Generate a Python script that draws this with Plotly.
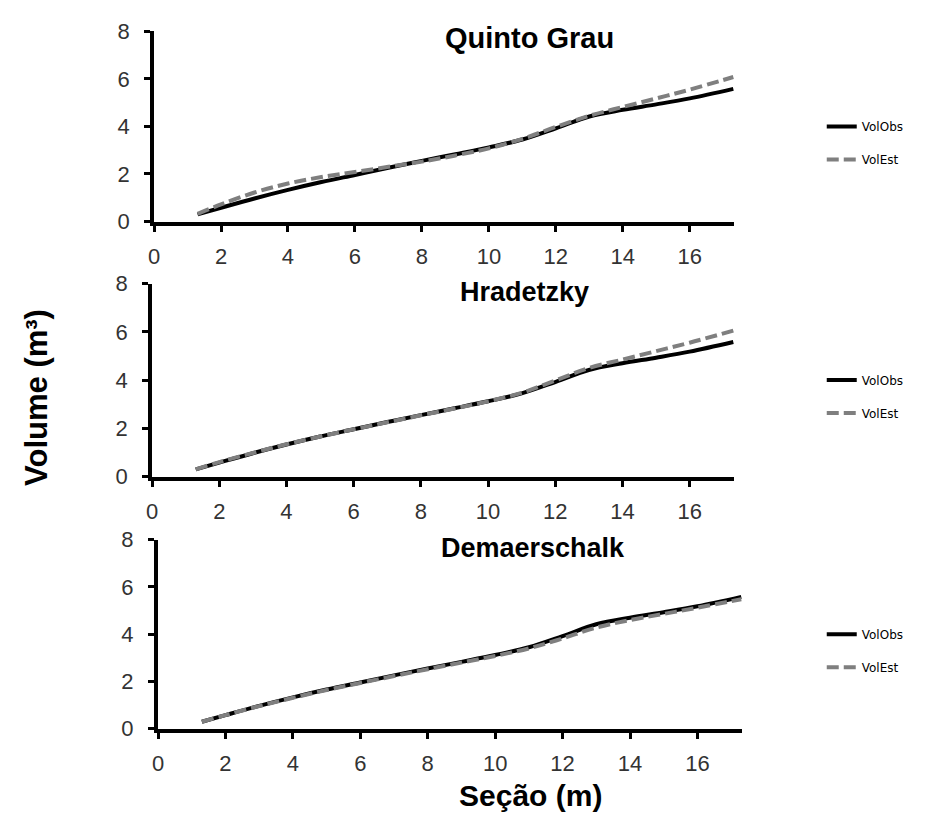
import plotly.graph_objects as go

# ---- data ----
secao = [1.3, 2, 3, 4, 5, 6, 7, 8, 9, 10, 11, 12, 13, 14, 15, 16, 17.3]
vol_obs = [0.30, 0.58, 0.97, 1.33, 1.66, 1.96, 2.26, 2.55, 2.83, 3.12, 3.45, 3.92, 4.42, 4.70, 4.93, 5.18, 5.58]
est_quinto = [0.32, 0.72, 1.22, 1.60, 1.87, 2.08, 2.30, 2.52, 2.78, 3.08, 3.48, 3.98, 4.45, 4.82, 5.18, 5.55, 6.08]
est_hradetzky = [0.30, 0.60, 0.98, 1.34, 1.66, 1.96, 2.25, 2.54, 2.82, 3.12, 3.47, 3.98, 4.50, 4.85, 5.20, 5.55, 6.05]
est_demaer = [0.30, 0.58, 0.96, 1.31, 1.64, 1.94, 2.23, 2.52, 2.80, 3.08, 3.40, 3.82, 4.28, 4.60, 4.86, 5.12, 5.48]

panel_titles = ["Quinto Grau", "Hradetzky", "Demaerschalk"]
panel_est = [est_quinto, est_hradetzky, est_demaer]
x_ticks = [0, 2, 4, 6, 8, 10, 12, 14, 16]
y_ticks = [0, 2, 4, 6, 8]

W, H = 938, 832
# pixel boxes of each plot area: (left, right, top, bottom)
boxes = [(149, 733, 20, 216), (147, 733, 280, 479), (153, 741, 544, 739)]
title_y = [27, 289, 553]
title_x = [527, 522, 530]
title_size = [29, 27, 27]

fig = go.Figure()
layout = dict(
    width=W, height=H,
    margin=dict(l=0, r=0, t=0, b=0),
    paper_bgcolor="white", plot_bgcolor="white",
    font=dict(family="Liberation Sans, Arial", color="#222"),
    annotations=[], showlegend=True,
)

for i in range(3):
    l, r, t, b = boxes[i]
    xa = "xaxis" if i == 0 else f"xaxis{i+1}"
    ya = "yaxis" if i == 0 else f"yaxis{i+1}"
    xr = "x" if i == 0 else f"x{i+1}"
    yr = "y" if i == 0 else f"y{i+1}"
    lg = "legend" if i == 0 else f"legend{i+1}"
    fig.add_trace(go.Scatter(
        x=secao, y=vol_obs, mode="lines", name="VolObs",
        line=dict(color="black", width=4, shape="spline"),
        xaxis=xr, yaxis=yr, legend=lg, legendgroup=f"obs{i}"))
    fig.add_trace(go.Scatter(
        x=secao, y=panel_est[i], mode="lines", name="VolEst",
        line=dict(color="#7f7f7f", width=4, shape="spline", dash="12px,5px"),
        xaxis=xr, yaxis=yr, legend=lg, legendgroup=f"est{i}"))
    common = dict(showline=True, linewidth=4, linecolor="black",
                  ticks="outside", ticklen=6, tickwidth=3, tickcolor="black",
                  showgrid=False, zeroline=False,
                  tickfont=dict(size=22, color="#333", family="Liberation Sans, Arial"))
    layout[xa] = dict(domain=[l / W, r / W], range=[0, 17.33], tickvals=x_ticks,
                      anchor=yr, ticklabelstandoff=6, **common)
    layout[ya] = dict(domain=[1 - b / H, 1 - t / H], range=[0, 8], tickvals=y_ticks,
                      anchor=xr, ticklabelstandoff=10, **common)
    cy = (t + b) / 2
    layout[lg] = dict(x=821 / W, xanchor="left", y=1 - (cy + 17) / H, yanchor="middle",
                      bgcolor="rgba(0,0,0,0)", tracegroupgap=14,
                      font=dict(size=12, color="black", family="DejaVu Sans"))
    layout["annotations"].append(dict(
        text=f"<b>{panel_titles[i]}</b>", x=title_x[i] / W, y=1 - title_y[i] / H,
        xref="paper", yref="paper", showarrow=False, xanchor="center", yanchor="middle",
        font=dict(size=title_size[i], color="black", family="Liberation Sans, Arial")))

layout["annotations"].append(dict(
    text="<b>Volume (m³)</b>", x=30 / W, y=1 - 397 / H, xref="paper", yref="paper",
    showarrow=False, textangle=-90, xanchor="center", yanchor="middle",
    font=dict(size=31, color="black", family="Liberation Sans, Arial")))
layout["annotations"].append(dict(
    text="<b>Seção (m)</b>", x=528 / W, y=1 - 808 / H, xref="paper", yref="paper",
    showarrow=False, xanchor="center", yanchor="middle",
    font=dict(size=30, color="black", family="Liberation Sans, Arial")))

fig.update_layout(**layout)
fig.write_html("out.html", config={"displayModeBar": False},
               post_script="document.body.style.margin='0px';document.body.style.overflow='hidden';")
